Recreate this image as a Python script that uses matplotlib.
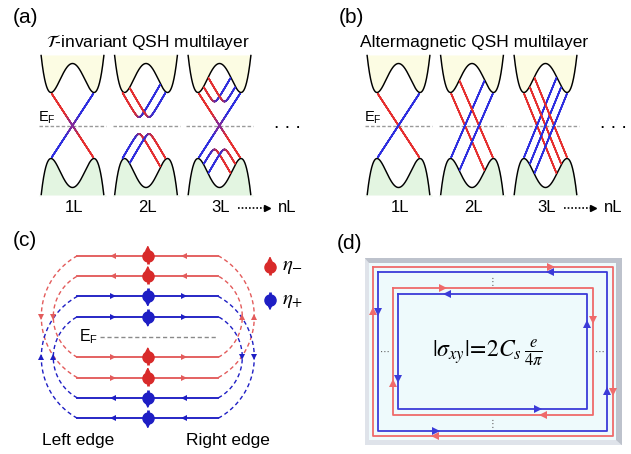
"""
Schematic of edge states in T-invariant and altermagnetic QSH multilayers.
Everything is drawn in one axes whose data units are pixels of the final image.
"""

import numpy as np
import matplotlib
matplotlib.use('Agg')
from matplotlib import pyplot as plt
from matplotlib.collections import LineCollection
from matplotlib.colors import to_rgb
from matplotlib.patches import Rectangle, Polygon

plt.rcParams['font.family'] = ['Liberation Sans', 'DejaVu Sans']
plt.rcParams['mathtext.fontset'] = 'stix'

RED = '#e62e2e'
BLUE = '#2d2de0'
PURPLE = '#86289a'
YELLOW = '#fcfce3'
GREEN = '#e3f5e1'

# ---------------- (a), (b): band pictures ----------------
layers = ['1L', '2L', '3L']
panel_left = {'a': 39.0, 'b': 365.0}
panel_pitch = 73.5
half_width = 33.5
y_EF = 125.5
E_top, E_bot = 70.5, -69.5

# band model (pixels): E_c = gap + hump * ((k/k_min)^2 - 1)^2, valence = -E_c
band_gap = 33.0
band_hump = 29.0
band_kmin = 21.5
band_margin = 1.3

# T-invariant: crossing lines (slope) and pockets (k centre, |E| at bottom)
tinv_cross_slope = {'1L': 1.53, '2L': None, '3L': 1.55}
tinv_pocket_k = {'1L': [], '2L': [-7.0, 3.0], '3L': [-5.0, 5.0]}
tinv_pocket_E = {'1L': 0.0, '2L': 8.5, '3L': 24.0}
pocket_slope = 1.75
pocket_round = 5.0

# altermagnetic: parallel lines crossing E_F at these k offsets
alt_offsets = {'1L': [0.0], '2L': [-7.0, 7.0], '3L': [-8.5, 0.0, 8.5]}
alt_slope = {'1L': 1.53, '2L': 2.3, '3L': 2.45}

titles = {'a': r'$\mathcal{T}$-invariant QSH multilayer',
          'b': 'Altermagnetic QSH multilayer'}


def band(k):
    return band_gap + band_hump * ((k / band_kmin) ** 2 - 1) ** 2


def mix(c1, c2, t):
    c1 = np.array(to_rgb(c1))
    c2 = np.array(to_rgb(c2))
    return (1 - t)[:, None] * c1 + t[:, None] * c2


def draw_state(ax, xc, k, E, k_ref, s_ref, purple_EF=False):
    Ec = band(k) - band_margin
    inside = (E < Ec) & (E > -Ec) & (E < E_top) & (E > E_bot)
    i0 = int(np.argmin(np.abs(k - k_ref)))
    lo, hi = i0, i0
    while lo > 0 and inside[lo - 1]:
        lo -= 1
    while hi < len(k) - 1 and inside[hi + 1]:
        hi += 1
    k, E = k[lo:hi + 1], E[lo:hi + 1]
    slope = np.gradient(E, k)
    t = np.clip(0.5 * (1 + slope / s_ref), 0, 1)
    cols = mix(RED, BLUE, t)
    if purple_EF:
        w = np.exp(-(E / 7.0) ** 2)
        cols = (1 - w)[:, None] * cols + w[:, None] * np.array(to_rgb(PURPLE))
    pts = np.column_stack([xc + k, y_EF - E])
    segs = np.stack([pts[:-1], pts[1:]], axis=1)
    ax.add_collection(LineCollection(segs, colors=cols[:-1], linewidths=1.1,
                                     capstyle='round', zorder=4))


def draw_panel(ax, xc, which, layer):
    k = np.linspace(-half_width, half_width, 600)
    Ec = band(k)
    ax.fill_between(xc + k, y_EF - np.minimum(Ec, E_top), y_EF - E_top,
                    color=YELLOW, lw=0, zorder=1)
    ax.fill_between(xc + k, y_EF + np.minimum(Ec, E_top), y_EF - E_bot,
                    color=GREEN, lw=0, zorder=1)
    ax.plot([xc - half_width, xc + half_width], [y_EF, y_EF], color='#9a9a9a',
            lw=1.0, ls=(0, (2.5, 1.5)), zorder=2)
    ax.plot(xc + k, np.where(Ec <= E_top, y_EF - Ec, np.nan), color='black', lw=1.05, zorder=3)
    ax.plot(xc + k, np.where(Ec <= -E_bot, y_EF + Ec, np.nan), color='black', lw=1.05, zorder=3)

    kk = np.linspace(-half_width, half_width, 1500)
    if which == 'a':
        s = tinv_cross_slope[layer]
        if s is not None:
            draw_state(ax, xc, kk, -s * kk, 0.0, s, purple_EF=True)
            draw_state(ax, xc, kk, s * kk, 0.0, s, purple_EF=True)
        Eb = tinv_pocket_E[layer]
        for k0 in tinv_pocket_k[layer]:
            h = Eb - pocket_round + np.sqrt(pocket_round ** 2 + (pocket_slope * (kk - k0)) ** 2)
            draw_state(ax, xc, kk, h, k0, pocket_slope)
            draw_state(ax, xc, kk, -h, k0, pocket_slope)
    else:
        s = alt_slope[layer]
        for k0 in alt_offsets[layer]:
            draw_state(ax, xc, kk, -s * (kk - k0), k0, s)
            draw_state(ax, xc, kk, s * (kk - k0), k0, s)


fig = plt.figure(figsize=(6.31, 4.54), dpi=100)
ax = fig.add_axes([0, 0, 1, 1])
ax.set_xlim(0, 631)
ax.set_ylim(454, 0)
ax.axis('off')

for which, x0 in panel_left.items():
    for i, layer in enumerate(layers):
        xc = x0 + half_width + i * panel_pitch
        draw_panel(ax, xc, which, layer)
        ax.text(xc + 1, 208, layer, ha='center', va='center', fontsize=12)
    x_last = x0 + half_width + 2 * panel_pitch
    ax.plot([x_last + 18, x_last + 46], [208, 208], color='black', lw=1.2, ls=(0, (1, 1.2)))
    ax.plot([x_last + 47], [208], marker='>', ms=4, color='black')
    ax.text(x_last + 68, 208, 'nL', ha='center', va='center', fontsize=12)
    ax.text(x_last + 68, 127.5, '. . .', ha='center', va='baseline', fontsize=14)
    ax.text(x0 - 1, 121.5, r'$\mathregular{E_F}$', ha='left', va='baseline', fontsize=10.5)
    ax.text(x0 + 109, 42, titles[which], ha='center', va='center', fontsize=12.5)
    ax.text(x0 - 26, 8, '(%s)' % which, ha='left', va='top', fontsize=15)

# ---------------- (c): edge channels ----------------
c_levels = [4, 3, 2, 1, -1, -2, -3, -4]
c_colours = ['red', 'red', 'blue', 'blue', 'red', 'red', 'blue', 'blue']
c_direction = [-1, -1, 1, 1, 1, 1, -1, -1]
c_pairs = [(4, -2), (3, -1), (2, -4), (1, -3)]
c_bulge = [36.0, 24.0, 36.0, 24.0]
c_arrow_frac = [0.25, 0.76]
c_x = (77.3, 218.3)
c_yEF = 337.0
c_step = 20.3
C_RED = '#e35b5b'
C_DOT_RED = '#d82a2a'
C_BLUE = '#1e1ec4'
col_c = {'red': C_RED, 'blue': C_BLUE}


def level_y(lv):
    return c_yEF - c_step * lv


def spin(ax, x, y, kind, ms=8):
    col = C_DOT_RED if kind == 'red' else C_BLUE
    sgn = -1 if kind == 'red' else 1
    ax.plot([x, x], [y - sgn * 8, y + sgn * 4], color=col, lw=2.0, solid_capstyle='butt', zorder=6)
    ax.annotate('', xy=(x, y + sgn * 10.5), xytext=(x, y + sgn * 4),
                arrowprops=dict(arrowstyle='-|>', color=col, lw=1.0,
                                mutation_scale=7, shrinkA=0, shrinkB=0), zorder=6)
    ax.plot([x], [y], 'o', ms=ms, color=col, mec=col, zorder=7)


x_mid = 0.5 * (c_x[0] + c_x[1])
for lv, kind, d in zip(c_levels, c_colours, c_direction):
    y = level_y(lv)
    ax.plot(c_x, [y, y], color=col_c[kind], lw=1.35, zorder=3)
    for f in c_arrow_frac:
        ax.plot([c_x[0] + f * (c_x[1] - c_x[0])], [y], marker='>' if d > 0 else '<',
                ms=5, color=col_c[kind], mew=0, zorder=4)
    spin(ax, x_mid, y, kind)

for (l1, l2), b in zip(c_pairs, c_bulge):
    kind = c_colours[c_levels.index(l1)]
    y1, y2 = level_y(l1), level_y(l2)
    h = 0.5 * (y2 - y1)
    yc = 0.5 * (y1 + y2)
    r = (b ** 2 + h ** 2) / (2 * b)
    th0 = np.arctan2(h, b - r)
    th = np.linspace(th0, 2 * np.pi - th0, 200)
    xs_left = c_x[0] + (r - b) + r * np.cos(th)
    for side, xs in ((-1, xs_left), (1, c_x[0] + c_x[1] - xs_left)):
        ax.plot(xs, yc + r * np.sin(th), color=col_c[kind], lw=1.0,
                ls=(0, (3, 2.2)), zorder=2)
        x_end = c_x[0] if side < 0 else c_x[1]
        down = (kind == 'red') == (side < 0)
        ax.plot([x_end + side * b], [yc], marker='v' if down else '^', ms=5,
                color=col_c[kind], mew=0, zorder=4)

ax.plot([100, c_x[1]], [c_yEF, c_yEF], color='#8a8a8a', lw=1.0, ls=(0, (3, 2)), zorder=2)
ax.text(79, c_yEF + 4.5, r'$\mathregular{E_F}$', ha='left', va='baseline', fontsize=11.5)

legend_items = [('red', r'$\eta_{-}$'), ('blue', r'$\eta_{+}$')]
for i, (kind, lab) in enumerate(legend_items):
    y = 266.7 + 33.3 * i
    spin(ax, 270, y, kind)
    ax.text(282, y, lab, ha='left', va='center', fontsize=15)

ax.text(78, 440, 'Left edge', ha='center', va='center', fontsize=12.5)
ax.text(228, 440, 'Right edge', ha='center', va='center', fontsize=12.5)
ax.text(13, 231, '(c)', ha='left', va='top', fontsize=15)

# ---------------- (d): nested edge loops ----------------
d_centre = (492.8, 351.5)
d_half_w = [120.3, 114.5, 100.0, 94.5]
d_half_h = [84.5, 79.2, 63.4, 57.4]
d_colour = ['red', 'blue', 'red', 'blue']
d_clockwise = [True, False, True, False]
d_arrow_frac = [0.74, 0.25, 0.25, 0.74]
D_RED = '#ef6a6a'
D_BLUE = '#3b3bd8'

frame = (365.0, 258.3, 621.7, 445.0)
ax.add_patch(Rectangle((frame[0], frame[1]), frame[2] - frame[0], frame[3] - frame[1],
                       color='#bdc2cc', lw=0, zorder=1))
ax.add_patch(Polygon([(frame[0], frame[1]), (frame[0] + 4.3, frame[1] + 5), (frame[0] + 4.3, frame[3] - 5),
                      (frame[2] - 5.7, frame[3] - 5), (frame[2], frame[3]), (frame[0], frame[3])],
                     closed=True, color='#dfe3ea', lw=0, zorder=1))
ax.add_patch(Rectangle((frame[0] + 4.3, frame[1] + 5), frame[2] - frame[0] - 10, frame[3] - frame[1] - 10,
                       color='#eefafc', lw=0, zorder=1))

for hw, hh, kind, cw, f in zip(d_half_w, d_half_h, d_colour, d_clockwise, d_arrow_frac):
    col = D_RED if kind == 'red' else D_BLUE
    x0, x1 = d_centre[0] - hw, d_centre[0] + hw
    y0, y1 = d_centre[1] - hh, d_centre[1] + hh
    ax.plot([x0, x1, x1, x0, x0], [y0, y0, y1, y1, y0], color=col, lw=1.3, zorder=3)
    if cw:
        heads = [(x0 + f * (x1 - x0), y0, '>'), (x1, y0 + f * (y1 - y0), 'v'),
                 (x1 - f * (x1 - x0), y1, '<'), (x0, y1 - f * (y1 - y0), '^')]
    else:
        heads = [(x1 - f * (x1 - x0), y0, '<'), (x0, y0 + f * (y1 - y0), 'v'),
                 (x0 + f * (x1 - x0), y1, '>'), (x1, y1 - f * (y1 - y0), '^')]
    for hx, hy, m in heads:
        ax.plot([hx], [hy], marker=m, ms=6, color=col, mew=0, zorder=4)

for dx, dy, sym in [(0, -70, '\u22ee'), (0, 72, '\u22ee'), (-108, 0, '\u22ef'), (107, 0, '\u22ef')]:
    ax.text(d_centre[0] + dx, d_centre[1] + dy, sym, ha='center', va='center',
            fontsize=7, color='#555555', family='DejaVu Sans')

ax.text(488, 353, r'$|\sigma_{xy}|\!=\!2C_s\,\frac{e}{4\pi}$',
        ha='center', va='center', fontsize=17)
ax.text(337, 234, '(d)', ha='left', va='top', fontsize=15)

fig.savefig('out.png', dpi=100)
print('done')
